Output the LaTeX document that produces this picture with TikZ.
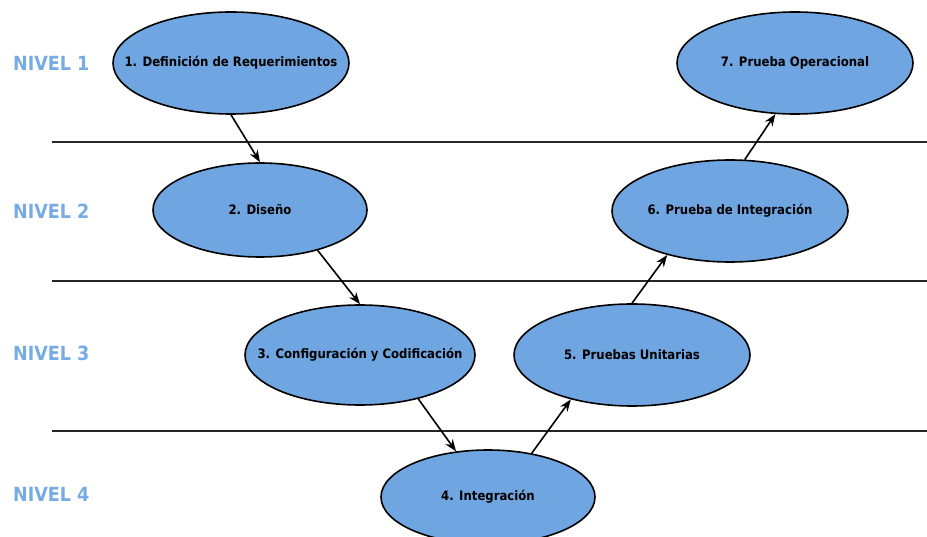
\documentclass[tikz,border=0pt]{standalone}
\usepackage{fontspec}
\setmainfont{DejaVu Sans}
\newfontfamily\condfont{DejaVu Sans Condensed}
\usetikzlibrary{shapes.geometric,arrows.meta}
\definecolor{ellfill}{HTML}{6FA5E0}
\definecolor{nivelblue}{HTML}{76ABE3}
\newcommand{\phasetext}[1]{\makebox[0pt]{#1}}
\tikzset{
  phase/.style={ellipse, draw=black, line width=1.6pt, fill=ellfill, inner sep=0pt,
    font=\condfont\bfseries\fontsize{13}{15}\selectfont, text=black},
  nivel/.style={font=\condfont\bfseries\fontsize{19.5}{23}\selectfont, text=nivelblue, anchor=west, inner sep=0pt},
  sep/.style={line width=1.5pt, draw=black!85},
  flow/.style={line width=1.6pt, -{Stealth[length=12pt,width=9pt]}}
}
\begin{document}
\begin{tikzpicture}[x=1pt,y=-1pt]
\useasboundingbox (0,0) rectangle (927,537);
% separators
\coordinate (s1l) at (52,142); \coordinate (s1r) at (927,142);
\coordinate (s2l) at (52,281); \coordinate (s2r) at (927,281);
\coordinate (s3l) at (52,431); \coordinate (s3r) at (927,431);
\draw[sep] (s1l) -- (s1r);
\draw[sep] (s2l) -- (s2r);
\draw[sep] (s3l) -- (s3r);
% level labels
\node[nivel] (l1) at (13,63) {NIVEL 1};
\node[nivel] (l2) at (13,211) {NIVEL 2};
\node[nivel] (l3) at (13,353) {NIVEL 3};
\node[nivel] (l4) at (13,494) {NIVEL 4};
% phases
\node[phase, minimum width=236pt, minimum height=102pt] (n1) at (231,63) {\phasetext{1. Definición de Requerimientos}};
\node[phase, minimum width=214pt, minimum height=94pt] (n2) at (260,210) {\phasetext{2. Diseño}};
\node[phase, minimum width=230pt, minimum height=100pt] (n3) at (360,355) {\phasetext{3. Configuración y Codificación}};
\node[phase, minimum width=214pt, minimum height=94pt] (n4) at (488,497) {\phasetext{4. Integración}};
\node[phase, minimum width=236pt, minimum height=102pt] (n5) at (632,355) {\phasetext{5. Pruebas Unitarias}};
\node[phase, minimum width=236pt, minimum height=102pt] (n6) at (730,211) {\phasetext{6. Prueba de Integración}};
\node[phase, minimum width=236pt, minimum height=102pt] (n7) at (795,63) {\phasetext{7. Prueba Operacional}};
% arrows
\draw[flow] (n1.south) -- (n2.north);
\draw[flow] (n2.-35) -- (n3.north);
\draw[flow] (n3.-37) -- (n4.125);
\draw[flow] (n4.45) -- (n5.216);
\draw[flow] (n5.north) -- (n6.215);
\draw[flow] (n6.74) -- (n7.249);
\end{tikzpicture}
\end{document}
